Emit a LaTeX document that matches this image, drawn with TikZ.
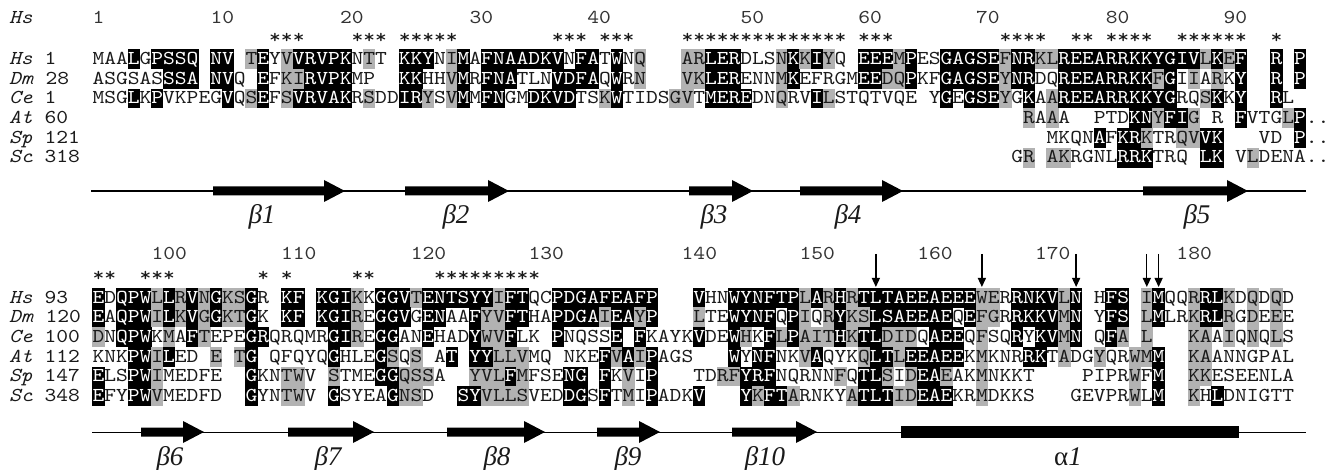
\documentclass[tikz,border=0pt]{standalone}
\usepackage{fontspec}
\usetikzlibrary{arrows.meta}
\newfontfamily\seqf{lmmono10-regular.otf}[FakeStretch=1.139,ItalicFont=lmmono10-italic.otf,ItalicFeatures={FakeStretch=1.139}]
\newfontfamily\serf{Liberation Serif}
\newcommand\seqsize{\fontsize{19.7}{20}\selectfont}
\newcommand\sssize{\fontsize{27}{28}\selectfont}
\definecolor{shadegray}{HTML}{B2B2B2}
\definecolor{ink}{HTML}{1A1A1A}
\definecolor{numgray}{HTML}{333333}
\newif\ifboxpass
\newcommand\seqcell[5]{%
  \pgfmathsetmacro\cx{92.5+11.78*#3}%
  \ifboxpass
    \if b#5\fill[black] (\cx-0.25,#2-15.3) rectangle (\cx+12.03,#2+4.6);\fi
    \if g#5\fill[shadegray] (\cx-0.25,#2-15.3) rectangle (\cx+12.03,#2+4.6);\fi
  \else
    \if -#4\else
      \if b#5\node[seqtxt,text=white] (#1-#3) at (\cx+5.89,#2) {#4};%
      \else\node[seqtxt] (#1-#3) at (\cx+5.89,#2) {#4};\fi
    \fi
  \fi}
\ExplSyntaxOn
\cs_new_protected:Npn \myal_row:nnnnn #1#2#3#4#5
 {
   \int_step_inline:nn { \tl_count:n {#4} }
    {
      \use:e { \exp_not:N \seqcell {#1} {#2} { \int_eval:n {#3 + ##1 - 1} } { \tl_item:nn {#4} {##1} } { \tl_item:nn {#5} {##1} } }
    }
 }
\NewDocumentCommand \seqrow { m m m m m } { \myal_row:nnnnn {#1}{#2}{#3}{#4}{#5} }
\ExplSyntaxOff
\newcommand\colx[1]{92.5+11.78*#1}
\newcommand\allrows{%
% ---------- block 1
\seqrow{hsA}{64.5}{0}{MAALGPSSQ- NV-TEYVVRV PKNTT-KKYN IMAFNAADKV NFATWNQ--- ARLERDLSNK KIYQ-EEEMP ESGAGSEFNR KLREEARRKK YGIVLKEF-- R-P}
 {...b.bbbb. bb.gb.gbbb bb.g..bbb. gb.bbbbbbb .bb.b.g... ggbbb...gb gbg..bbbgb ..bbbbbgbb ggbbbbbbbb bbbbgbgb.. b.b}%
\seqrow{dmA}{84.2}{0}{ASGSASSSA- NVQ-EFKIRV PKMP--KKHH VMRFNATLNV DFAQWRN--- VKLERENNMK EFRGMEEDQP KFGAGSEYNR DQREEARRKK FGIIARKY-- R-P}
 {......bbb. bb..b.ggbb bb....bb.. gb.bbb...b bbb.b.g... ggbbb...gb .....bbggb ..bbbbbgbb ..bbbbbbbb gb.g.g.b.. b.b}%
\seqrow{ceA}{103.9}{0}{MSGLKPVKPE GVQSEFSVRV AKRSDDIRYS VMMFNGMDKV DTSKWTIDSG VTMEREDNQR VILSTQTVQE -YGEGSEYGK AAREEARRKK YGRQSKKY-- RL}
 {...b.b.... .b.gb.gbbb bb.g..bbg. gb.bb..bbb b..gb....g g.bbbb..g. .bg....... ..b.bbbg.b .gbbbbbbbb bb..gb.b.. b.}%
\seqrow{atA}{123.6}{79}{RAAA--PTDK NYFIG-R-FV TGLP..}{g.g......b bgbbg...b. ..gb..}%
\seqrow{spA}{143.3}{81}{MKQNAFKRKT RQVVK---VD -P..}{....b.bbg. .ggbb..... .b..}%
\seqrow{scA}{163}{78}{GR-AKRGNLR RKTRQ-LK-V LDENA..}{.g.gg....b bb....bb.. g......}%
% ---------- block 2
\seqrow{hsB}{303}{0}{EDQPWLLRVN GKSGR-KF-K GIKKGGVTEN TSYYIFTQCP DGAFEAFP-- -VHNWYNFTP LARHRTLTAE EAEEEWERRN KVLN-HFS-I MQQRRLKDQD QD}
 {b.bbbgbgbg bggb..bb.b bbg.bbbgbb bbbbgbb..b bbbbbbbb.. .b..bbbbbb gbgbgbbbbb bbbbbgg.bb bbgb..bb.g b..gbbg.g. g.}%
\seqrow{dmB}{322.7}{0}{EAQPWILKVG GKTGK-KF-K GIREGGVGEN AAFYVFTHAP DGAIEAYP-- -LTEWYNFQP IQRYKSLSAE EAEQEFGRRK KVMN-YFS-L MLRKRLRGDE EE}
 {b.bbbgbgbg bggb..bb.b bbg.bbb.bb ..bggbb..b bbbgbbgb.. .g..bbbb.b g.gbggbbbb bbb.bgg.bb bbgb..bb.g b..gbbg.g. g.}%
\seqrow{ceB}{342.4}{0}{DNQPWKMAFT EPEGRQRQMR GIREGGANEH ADYWVFLK-P NQSSE-FKAY KVDEWHKFLP AITHKTLDID QAEEQFSQRY KVMN-QFA-L ---KAAIQNQ LS}
 {g.bbb.g.bg ...bb..... bbg.bb..b. ..bggb...b ....b.b... .b..bg.bgb gggbgbbggg .bbb.g..b. bbgb..bg.g ...gg.g.g. g.}%
\seqrow{atB}{362.1}{0}{KNKPWILED- E-TG-QFQYQ GHLEGSQS-A T-YYLLVMQ- NKEFVAIPAG S---WYNFNK VAQYKQLTLE EAEEKMKNRR KTADGYQRWM M--KAANNGP AL}
 {...bbgb... g.gb...... b...bg.g.. b.bbggg... ...bgbgb.. ....b.bb.. gb...gbbgb bbbb.g...b b.g..g..gg b..gg..... ..}%
\seqrow{spB}{381.8}{0}{ELSPWIMEDF E--GKNTWV- STMEGGQSSA --YVLFMFSE NG-FKVIP-- -TDRFYRFNQ RNNFQTLSID EAEAKMNKKT ----PIPRWF M--KKESEEN LA}
 {b..bbg.... ...b..gg.. g...bbggg. ..gggbg... bb.b.g.b.. ...ggbbb.. ...g.bbg.g bbg..g.... ........g. b..gg..... ..}%
\seqrow{scB}{401.5}{0}{EFYPWVMEDF D--GYNTWV- GSYEAGNSD- -SYVLLSVED DGSFTMIPAD KV---YKFTA RNKYATLTID EAEKRMDKKS ---GEVPRWL M--KHLDNIG TT}
 {b..bbg.... ...b..gg.. b....bgg.. .bbgggg... bb.b.g.b.. .b...bgbbg ....gbbbgg bbb..g.... ........g. b..g.b.... ..}%
}
\begin{document}
\begin{tikzpicture}[x=1pt,y=-1pt,
  seqtxt/.style={anchor=base,inner sep=0pt,outer sep=0pt,font=\seqsize\seqf,text=ink},
  lbl/.style={anchor=base west,inner sep=0pt,font=\seqsize\seqf,text=ink},
  numlbl/.style={anchor=base west,inner sep=0pt,font=\seqsize\seqf,text=numgray},
  star/.style={anchor=base,inner sep=0pt,font=\seqsize\seqf,text=ink},
  sslbl/.style={anchor=base,inner sep=0pt,font=\sssize\serf\itshape,text=ink},
  ssfill/.style={fill=black},
  marker/.style={-{Triangle[length=9pt,width=8pt]},line width=1.3pt,draw=black}]
\useasboundingbox (0,0) rectangle (1330,470);
\fill[white] (0,0) rectangle (1330,470);
% shading pass, then letters
\boxpasstrue\allrows
\boxpassfalse\allrows
% row labels
\node[lbl] (Ltop) at (9,24) {\textit{Hs}};
\node[lbl] (L1) at (9,64.5) {\textit{Hs} 1};
\node[lbl] (L2) at (9,84.2) {\textit{Dm} 28};
\node[lbl] (L3) at (9,103.9) {\textit{Ce} 1};
\node[lbl] (L4) at (9,123.6) {\textit{At} 60};
\node[lbl] (L5) at (9,143.3) {\textit{Sp} 121};
\node[lbl] (L6) at (9,163) {\textit{Sc} 318};
\node[lbl] (M1) at (9,303) {\textit{Hs} 93};
\node[lbl] (M2) at (9,322.7) {\textit{Dm} 120};
\node[lbl] (M3) at (9,342.4) {\textit{Ce} 100};
\node[lbl] (M4) at (9,362.1) {\textit{At} 112};
\node[lbl] (M5) at (9,381.8) {\textit{Sp} 147};
\node[lbl] (M6) at (9,401.5) {\textit{Sc} 348};
% numbering
\foreach \c/\t in {0/1,10/10,21/20,32/30,42/40,55/50,65/60,75/70,86/80,96/90}
  \node[numlbl] (nA\t) at ({\colx{\c}},24) {\t};
\foreach \c/\t in {5/100,16/110,27/120,37/130,50/140,60/150,70/160,80/170,92/180}
  \node[numlbl] (nB\t) at ({\colx{\c}},260) {\t};
% conservation stars
\foreach \c in {15,16,17,22,23,24,26,27,28,29,30,39,40,41,43,44,45,50,51,52,53,54,55,56,57,58,59,60,61,62,63,65,66,67,77,78,79,80,83,84,86,87,88,89,92,93,94,95,96,97,100}
  \node[star] (sA\c) at ({\colx{\c}+5.89},44) {*};
\foreach \c in {0,1,4,5,6,14,16,22,23,29,30,31,32,33,34,35,36,37}
  \node[star] (sB\c) at ({\colx{\c}+5.89},281) {*};
% down arrows
\foreach \c in {66,75,83,89,90}{
  \coordinate (mt\c) at ({\colx{\c}+5.89},254);
  \coordinate (mb\c) at ({\colx{\c}+5.89},287);
  \draw[marker] (mt\c) -- (mb\c);}
% secondary structure, block 1
\draw[line width=1.4pt] (91,191) -- (1306,191);
\foreach \a/\b in {213/345,405/509,689/753,800/903,1143/1248}
  \fill[ssfill] (\a,186.5) -- (\b-21,186.5) -- (\b-21,180) -- (\b,191) -- (\b-21,202) -- (\b-21,195.5) -- (\a,195.5) -- cycle;
\node[sslbl] (b1) at (262,224) {β1};
\node[sslbl] (b2) at (456,224) {β2};
\node[sslbl] (b3) at (714,224) {β3};
\node[sslbl] (b4) at (848,224) {β4};
\node[sslbl] (b5) at (1197,224) {β5};
% secondary structure, block 2
\draw[line width=0.9pt] (92,432) -- (1306,432);
\foreach \a/\b in {141/204,288/374,447/545,597/660,732/817}
  \fill[ssfill] (\a,427.5) -- (\b-21,427.5) -- (\b-21,421) -- (\b,432) -- (\b-21,443) -- (\b-21,436.5) -- (\a,436.5) -- cycle;
\fill[ssfill] (901,426) rectangle (1239,438);
\node[sslbl] (b6) at (170,465) {β6};
\node[sslbl] (b7) at (328,465) {β7};
\node[sslbl] (b8) at (497,465) {β8};
\node[sslbl] (b9) at (628,465) {β9};
\node[sslbl] (b10) at (765,465) {β10};
\node[sslbl] (a1) at (1068,465) {{\upshape α}1};
\end{tikzpicture}
\end{document}
